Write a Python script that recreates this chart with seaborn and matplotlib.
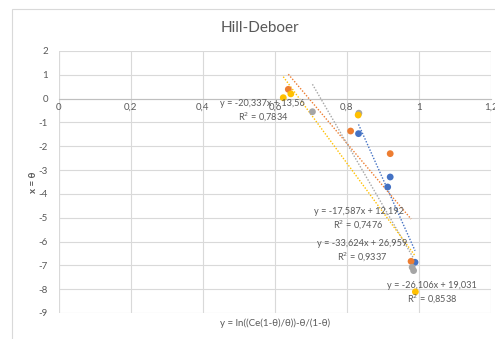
import numpy as np
import pandas as pd
import matplotlib
matplotlib.use('Agg')
import matplotlib.pyplot as plt
import matplotlib.ticker as mticker
from matplotlib.patches import Rectangle
import seaborn as sns

# data
series_names = ['Series1', 'Series2', 'Series3', 'Series4']
blue_x = [0.832, 0.920, 0.913, 0.989]
blue_y = [-1.47, -3.29, -3.71, -6.87]
orange_x = [0.637, 0.810, 0.920, 0.978]
orange_y = [0.39, -1.36, -2.31, -6.83]
gray_x = [0.704, 0.833, 0.981, 0.985]
gray_y = [-0.55, -0.61, -7.08, -7.22]
yellow_x = [0.623, 0.644, 0.831, 0.990]
yellow_y = [0.04, 0.20, -0.69, -8.11]

colors = ['#4472C4', '#ED7D31', '#A5A5A5', '#FFC000']

eq_labels = ['y = -33,624x + 26,959\nR$^2$ = 0,9337',
             'y = -17,587x + 12,192\nR$^2$ = 0,7476',
             'y = -26,106x + 19,031\nR$^2$ = 0,8538',
             'y = -20,337x + 13,56\nR$^2$ = 0,7834']
eq_pos = [(0.843, -6.40), (0.832, -5.08), (1.037, -8.17), (0.566, -0.53)]

x_ticks = [0, 0.2, 0.4, 0.6, 0.8, 1.0, 1.2]
y_ticks = list(range(-9, 3))

df = pd.DataFrame({
    'x': blue_x + orange_x + gray_x + yellow_x,
    'y': blue_y + orange_y + gray_y + yellow_y,
    'series': sum([[n] * 4 for n in series_names], []),
})

sns.set_style('white')
plt.rcParams['font.family'] = ['Lato', 'DejaVu Sans']
txt = '#595959'

fig = plt.figure(figsize=(4.95, 3.39), dpi=100)
ax = fig.add_axes([59 / 495, 1 - 313 / 339, 432 / 495, 262 / 339])

# outer chart border
fig.patches.append(Rectangle((12 / 495, -0.1), 1.2, 1 - 9 / 339 + 0.1,
                             transform=fig.transFigure, fill=False,
                             edgecolor='#D9D9D9', linewidth=0.8))

# trendlines
for name, col in zip(series_names, colors):
    sub = df[df['series'] == name]
    sns.regplot(data=sub, x='x', y='y', ax=ax, scatter=False, ci=None,
                truncate=True,
                line_kws=dict(color=col, linestyle=(0, (1, 1.2)), linewidth=1.0))

sns.scatterplot(data=df, x='x', y='y', hue='series', palette=colors, ax=ax,
                s=24, edgecolor='none', legend=False, zorder=5)

for lab, (px, py) in zip(eq_labels, eq_pos):
    ax.text(px, py, lab, ha='center', va='center', fontsize=6.6, color=txt,
            linespacing=1.3, zorder=6)

ax.set_xlim(0, 1.2)
ax.set_ylim(-9, 2)
ax.set_xticks(x_ticks)
ax.set_yticks(y_ticks)
fmt = mticker.FuncFormatter(lambda v, p: ('%g' % v).replace('.', ','))
ax.xaxis.set_major_formatter(fmt)
ax.yaxis.set_major_formatter(fmt)
ax.grid(True, color='#D9D9D9', linewidth=0.8)
ax.set_axisbelow(True)

for s in ['top', 'right', 'left']:
    ax.spines[s].set_visible(False)
ax.spines['bottom'].set_position(('data', 0))
ax.spines['bottom'].set_color('#BFBFBF')
ax.spines['bottom'].set_linewidth(0.8)
ax.tick_params(axis='x', length=0, pad=3, labelsize=7, labelcolor=txt)
ax.tick_params(axis='y', length=0, pad=8, labelsize=7, labelcolor=txt)
ax.axvline(0, color='#D9D9D9', linewidth=0.8, zorder=0)

ax.set_xlabel('')
ax.set_ylabel('')
fig.text(275 / 495, 1 - 323 / 339, 'y = ln((Ce(1-θ)/θ))-θ/(1-θ)', ha='center',
         va='center', fontsize=7, color=txt)
fig.text(33 / 495, 1 - 182 / 339, 'x = θ', ha='center', va='center',
         rotation=90, fontsize=7, fontweight='bold', color=txt)
fig.text(260 / 495, 1 - 28 / 339, 'Hill-Deboer', ha='center', va='center',
         fontsize=11, color=txt)

fig.savefig('out.png', dpi=100)
